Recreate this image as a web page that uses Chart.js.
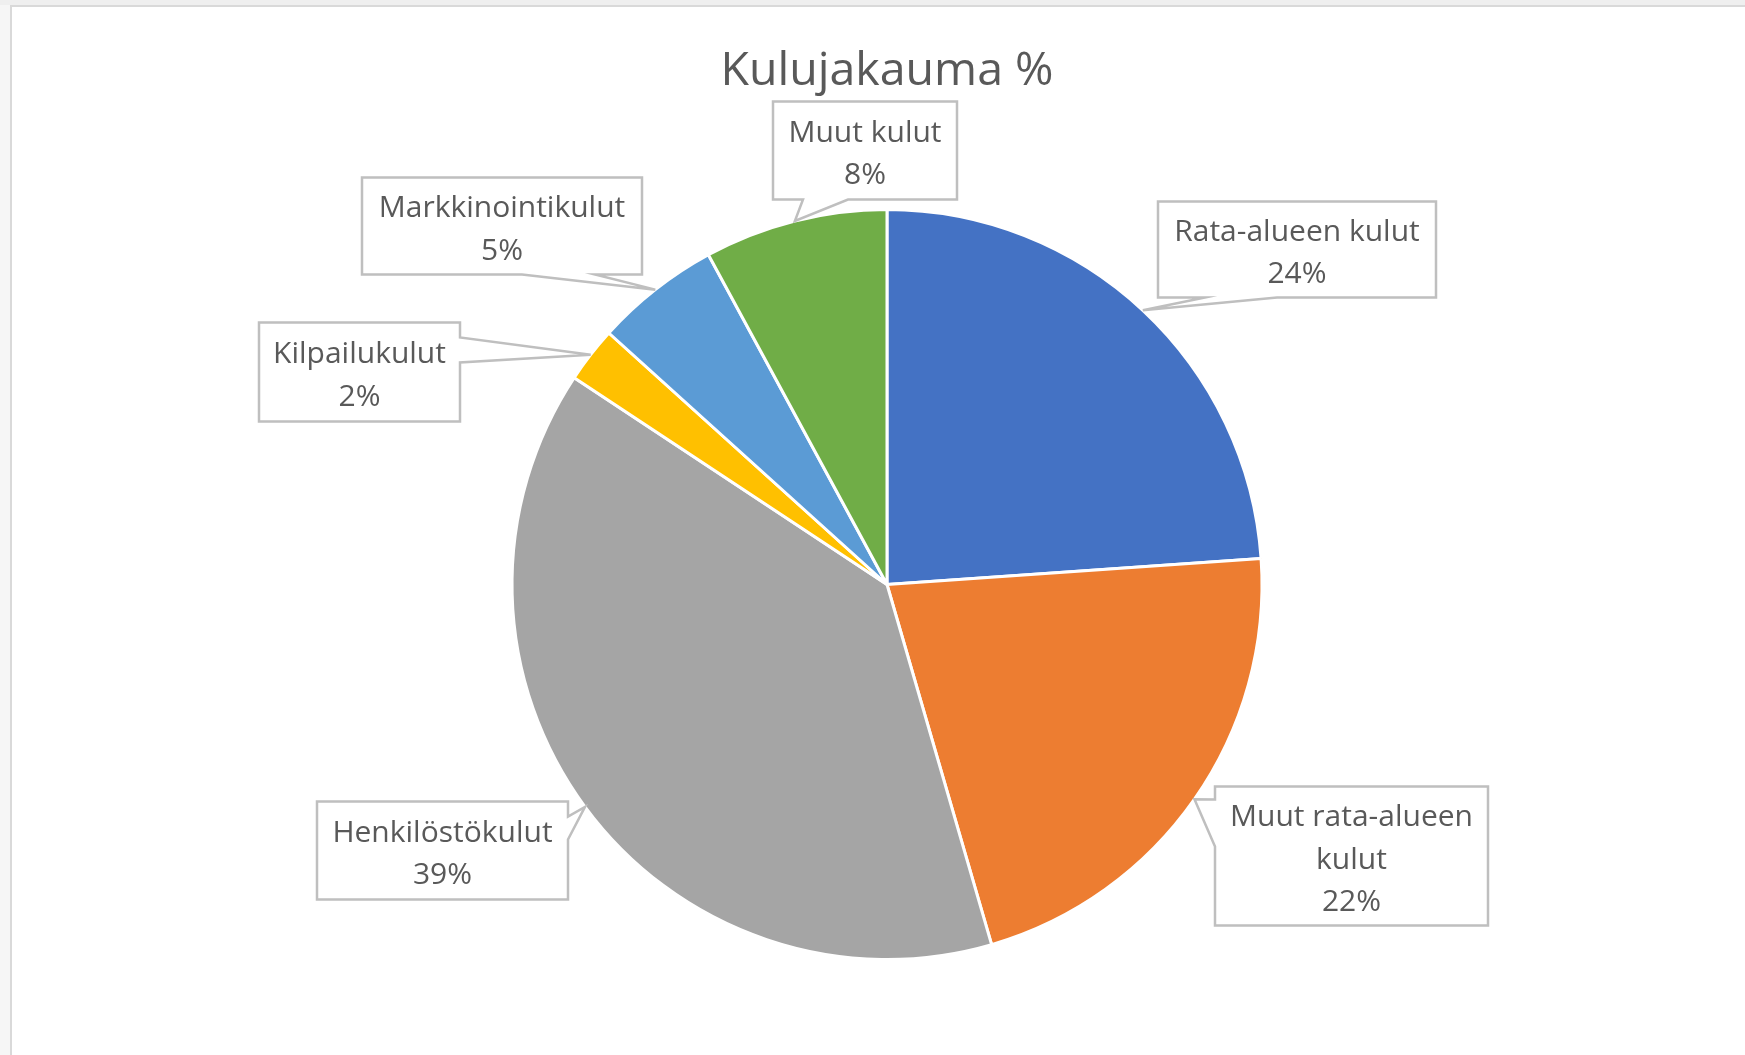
<!DOCTYPE html>
<html>
<head>
<meta charset="utf-8">
<script src="https://cdn.jsdelivr.net/npm/chart.js@4.4.1/dist/chart.umd.min.js"></script>
<style>
    html, body { margin: 0; padding: 0; background: #f6f6f6; overflow: hidden; }
    #frame { position: absolute; left: 10px; top: 5px; width: 1735px; height: 1050px; background: #fff;
             border-left: 2px solid #d9d9d9; border-top: 2px solid #d9d9d9; box-sizing: border-box; }
    #topband { position: absolute; left: 0; top: 0; width: 1745px; height: 5px; background: #efefef; }
    #kulut { position: absolute; left: 0; top: 0; }
</style>
</head>
<body>
<div id="topband"></div>
<div id="frame"></div>
<canvas id="kulut" width="1745" height="1055"></canvas>
<script>
// Kulujakauma — share of costs per category (%)
const categories = ['Rata-alueen kulut', 'Muut rata-alueen kulut', 'Henkilöstökulut', 'Kilpailukulut', 'Markkinointikulut', 'Muut kulut'];
const shares = [23.9, 21.6, 38.8, 2.4, 5.4, 7.9];
const sliceColors = ['#4472C4', '#ED7D31', '#A5A5A5', '#FFC000', '#5B9BD5', '#70AD47'];

// callout boxes, relative to the pie centre; wedge = edge + base offsets along that edge
const callouts = [
    { dx: 271, dy: -383, w: 278, h: 96, edge: 'bottom', a: 47, b: 119 },
    { dx: 328, dy: 202, w: 273, h: 139, edge: 'left', a: 13, b: 60 },
    { dx: -570, dy: 217, w: 251, h: 98, edge: 'right', a: 15, b: 38 },
    { dx: -628, dy: -262, w: 201, h: 99, edge: 'right', a: 15, b: 40 },
    { dx: -525, dy: -407, w: 280, h: 97, edge: 'bottom', a: 160, b: 233 },
    { dx: -114, dy: -483, w: 184, h: 98, edge: 'bottom', a: 30, b: 75 }
];

const TEXT_COLOR = '#595959';
const BOX_BORDER = '#bfbfbf';
const LABEL_FONT = '30px "Open Sans"';
const LINE_H = 42.5;

function wrapLines(ctx, text, maxW) {
    const words = text.split(' ');
    const lines = [];
    let cur = '';
    words.forEach(w => {
        const test = cur ? cur + ' ' + w : w;
        if (cur && ctx.measureText(test).width > maxW) {
            lines.push(cur);
            cur = w;
        } else {
            cur = test;
        }
    });
    if (cur) lines.push(cur);
    return lines;
}

function calloutPath(ctx, x, y, w, h, c, tip) {
    ctx.beginPath();
    ctx.moveTo(x, y);
    if (c.edge === 'top') { ctx.lineTo(x + c.a, y); ctx.lineTo(tip.x, tip.y); ctx.lineTo(x + c.b, y); }
    ctx.lineTo(x + w, y);
    if (c.edge === 'right') { ctx.lineTo(x + w, y + c.a); ctx.lineTo(tip.x, tip.y); ctx.lineTo(x + w, y + c.b); }
    ctx.lineTo(x + w, y + h);
    if (c.edge === 'bottom') { ctx.lineTo(x + c.b, y + h); ctx.lineTo(tip.x, tip.y); ctx.lineTo(x + c.a, y + h); }
    ctx.lineTo(x, y + h);
    if (c.edge === 'left') { ctx.lineTo(x, y + c.b); ctx.lineTo(tip.x, tip.y); ctx.lineTo(x, y + c.a); }
    ctx.closePath();
}

const calloutPlugin = {
    id: 'callouts',
    afterDatasetsDraw(chart) {
        const ctx = chart.ctx;
        const meta = chart.getDatasetMeta(0);
        const values = chart.data.datasets[0].data;
        ctx.save();
        meta.data.forEach((arc, i) => {
            const { x, y, startAngle, endAngle, outerRadius } = arc.getProps(['x', 'y', 'startAngle', 'endAngle', 'outerRadius'], true);
            const mid = (startAngle + endAngle) / 2;
            const tip = { x: x + Math.cos(mid) * outerRadius, y: y + Math.sin(mid) * outerRadius };
            const c = callouts[i];
            const bx = x + c.dx, by = y + c.dy;

            calloutPath(ctx, bx, by, c.w, c.h, c, tip);
            ctx.fillStyle = '#fff';
            ctx.fill();
            ctx.lineWidth = 2.5;
            ctx.strokeStyle = BOX_BORDER;
            ctx.lineJoin = 'miter';
            ctx.stroke();

            ctx.font = LABEL_FONT;
            ctx.fillStyle = TEXT_COLOR;
            ctx.textAlign = 'center';
            ctx.textBaseline = 'middle';
            const lines = wrapLines(ctx, chart.data.labels[i], c.w - 24);
            lines.push(Math.round(values[i]) + '%');
            const top = by + c.h / 2 - (lines.length - 1) * LINE_H / 2 + 4;
            lines.forEach((ln, k) => ctx.fillText(ln, bx + c.w / 2, top + k * LINE_H));
        });
        ctx.restore();
    },
    afterDraw(chart) {
        const ctx = chart.ctx;
        const area = chart.chartArea;
        ctx.save();
        ctx.font = '46.5px "Open Sans"';
        ctx.fillStyle = TEXT_COLOR;
        ctx.textAlign = 'center';
        ctx.textBaseline = 'alphabetic';
        ctx.fillText('Kulujakauma %', (area.left + area.right) / 2, 85);
        ctx.restore();
    }
};

new Chart(document.getElementById('kulut'), {
    type: 'pie',
    data: {
        labels: categories,
        datasets: [{
            data: shares,
            backgroundColor: sliceColors,
            borderColor: '#ffffff',
            borderWidth: 3,
            hoverOffset: 0
        }]
    },
    options: {
        responsive: false,
        animation: false,
        radius: 375,
        layout: { padding: { left: 100, right: 71, top: 152, bottom: 38 } },
        plugins: {
            legend: { display: false },
            tooltip: { enabled: false },
            title: { display: false }
        }
    },
    plugins: [calloutPlugin]
});
</script>
</body>
</html>
